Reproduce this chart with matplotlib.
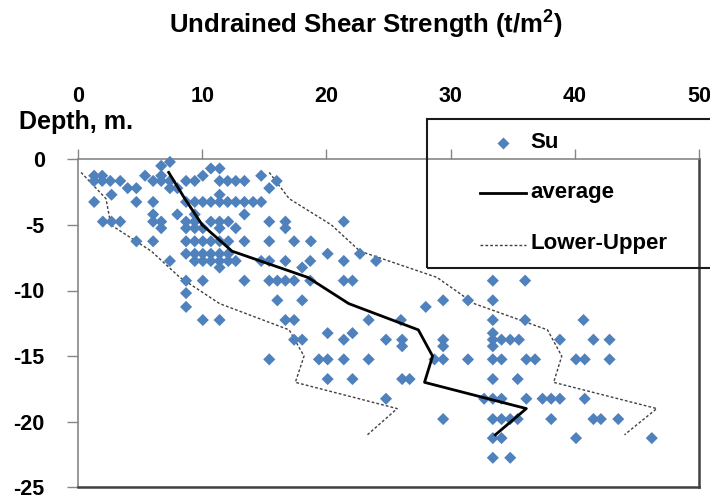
import numpy as np
import matplotlib
matplotlib.use("Agg")
import matplotlib.pyplot as plt
from matplotlib.patches import Rectangle
from matplotlib.lines import Line2D

plt.rcParams['font.family'] = ['Liberation Sans', 'DejaVu Sans']
plt.rcParams['font.weight'] = 'bold'
plt.rcParams['axes.unicode_minus'] = False
plt.rcParams['mathtext.fontset'] = 'custom'
plt.rcParams['mathtext.rm'] = 'Liberation Sans:bold'
plt.rcParams['mathtext.it'] = 'Liberation Sans:bold'
plt.rcParams['mathtext.bf'] = 'Liberation Sans:bold'

# Su measurements, grouped by sampling depth (m)
row_depths = [-0.2, -0.5, -0.7, -1.25, -1.65, -2.2, -2.7, -3.25, -4.2, -4.75,
              -5.25, -6.25, -7.2, -7.75, -8.25, -9.25, -10.2, -10.75, -11.25,
              -12.25, -13.25, -13.75, -14.25, -15.25, -16.75, -18.25, -19.8,
              -21.25, -22.75]
row_su = [
    [7.4],
    [6.7],
    [10.7, 11.4],
    [1.3, 1.95, 5.4, 6.7, 10.05, 14.75],
    [1.3, 1.95, 2.6, 3.4, 6.05, 6.7, 7.4, 8.7, 9.4, 11.4, 12.05, 12.7, 13.4, 16.0],
    [4.0, 4.7, 7.4, 8.0, 15.4],
    [2.7, 11.4],
    [1.3, 4.7, 6.05, 8.7, 9.4, 10.05, 10.7, 11.4, 12.05, 12.7, 13.4, 14.1, 14.75],
    [6.05, 8.0, 9.4, 13.4],
    [2.0, 2.7, 3.4, 6.05, 6.7, 8.7, 9.4, 10.7, 11.4, 12.1, 15.4, 16.7, 21.4],
    [6.7, 8.7, 9.4, 10.05, 11.4, 12.7, 16.7],
    [4.7, 6.05, 8.7, 9.4, 10.05, 10.7, 11.4, 12.1, 13.4, 15.4, 17.4, 18.75],
    [8.7, 9.4, 10.05, 10.7, 11.4, 12.1, 20.1, 22.7],
    [7.4, 9.4, 10.05, 10.7, 11.4, 12.1, 12.7, 14.75, 15.4, 16.7, 18.7, 21.4, 24.0],
    [11.4, 18.05],
    [8.7, 10.05, 13.4, 15.4, 16.05, 16.7, 17.4, 18.7, 21.4, 22.1, 33.4, 36.0],
    [8.7],
    [16.05, 18.05, 29.4, 31.4, 33.4],
    [8.7, 28.0],
    [10.05, 11.4, 16.7, 17.4, 23.4, 26.0, 33.4, 36.0, 40.7],
    [20.1, 22.1, 33.4],
    [17.4, 18.05, 21.4, 24.8, 26.1, 29.4, 33.4, 34.1, 34.8, 35.5, 38.8, 41.5, 42.8],
    [26.1, 29.4, 33.4],
    [15.4, 19.4, 20.1, 21.4, 23.4, 28.7, 29.4, 31.4, 33.4, 34.1, 36.1, 36.8, 40.1, 40.8, 42.8],
    [20.1, 22.1, 26.1, 26.7, 33.4, 35.4],
    [24.8, 32.7, 33.4, 34.1, 36.1, 37.4, 38.1, 38.8, 40.8],
    [29.4, 33.4, 34.1, 34.8, 35.4, 38.1, 41.5, 42.1, 43.5],
    [33.4, 34.1, 40.1, 46.2],
    [33.4, 34.8],
]

# layer averages and bounds
layer_depth = [-1, -3, -5, -7, -9, -11, -13, -15, -17, -19, -21]
su_average = [7.3, 8.6, 10.0, 12.4, 18.5, 21.8, 27.4, 28.55, 27.9, 36.1, 33.6]
su_lower = [0.25, 2.25, 2.65, 5.9, 8.2, 11.4, 17.0, 18.2, 17.5, 25.7, 23.3]
su_upper = [15.4, 17.0, 20.4, 22.7, 28.9, 31.9, 37.8, 38.95, 38.3, 46.6, 44.0]

x_ticks = [0, 10, 20, 30, 40, 50]
y_ticks = [0, -5, -10, -15, -20, -25]

su_x = np.concatenate([np.array(v) for v in row_su])
su_y = np.concatenate([np.full(len(v), d) for v, d in zip(row_su, row_depths)])

W, H = 710, 495
def px(x, y):
    return x / W, 1 - y / H

blue = '#4F81BD'
dash = (0, (2, 1.5))

fig = plt.figure(figsize=(W / 100, H / 100), dpi=100)
ax = fig.add_axes([78 / W, 1 - 487.3 / H, (699 - 78) / W, (487.3 - 159.3) / H])

ax.scatter(su_x, su_y, marker='D', s=38, color=blue, edgecolors='none', zorder=3, clip_on=False)
ax.plot(su_average, layer_depth, color='black', lw=2, zorder=4)
ax.plot(su_lower, layer_depth, color='#404040', lw=1, linestyle=dash, zorder=2)
ax.plot(su_upper, layer_depth, color='#404040', lw=1, linestyle=dash, zorder=2)

ax.set_xlim(0, 50)
ax.set_ylim(-25, 0)
ax.xaxis.tick_top()
ax.set_xticks(x_ticks)
ax.set_yticks(y_ticks)
ax.set_yticklabels([str(t) for t in y_ticks])
ax.tick_params(axis='x', direction='out', length=7, width=1, color='#868686',
               pad=31, labelsize=15.5)
ax.tick_params(axis='y', direction='out', length=8, width=1, color='#868686',
               pad=16, labelsize=15.5)
for s in ['top', 'left']:
    ax.spines[s].set_color('#868686')
    ax.spines[s].set_linewidth(1.2)
for s in ['right', 'bottom']:
    ax.spines[s].set_color('#404040')
    ax.spines[s].set_linewidth(1.8)

fig.text(*px(365.5, 33.3), r'Undrained Shear Strength (t/m$^{2}$)', fontsize=18.5,
         ha='center', va='baseline')
fig.text(*px(19, 129.3), 'Depth, m.', fontsize=18, ha='left', va='baseline')

# legend box (runs off the right edge)
x0, y0 = px(426.7, 268.3)
fig.patches.append(Rectangle((x0, y0), 0.6, 149 / H, transform=fig.transFigure,
                             fill=False, ec='#1a1a1a', lw=1.5, clip_on=False))
fig.add_artist(Line2D([502.7 / W], [1 - 143.3 / H], marker='D', markersize=6,
                      color=blue, mec='none', linestyle='none'))
fig.add_artist(Line2D([480 / W, 526 / W], [1 - 193.3 / H] * 2, color='black', lw=2))
fig.add_artist(Line2D([480 / W, 526 / W], [1 - 245 / H] * 2, color='#404040', lw=1,
                      linestyle=dash))
for label, yb in [('Su', 148.3), ('average', 198.3), ('Lower-Upper', 249)]:
    fig.text(*px(530, yb), label, fontsize=16, ha='left', va='baseline')

fig.savefig('out.png', dpi=100)
